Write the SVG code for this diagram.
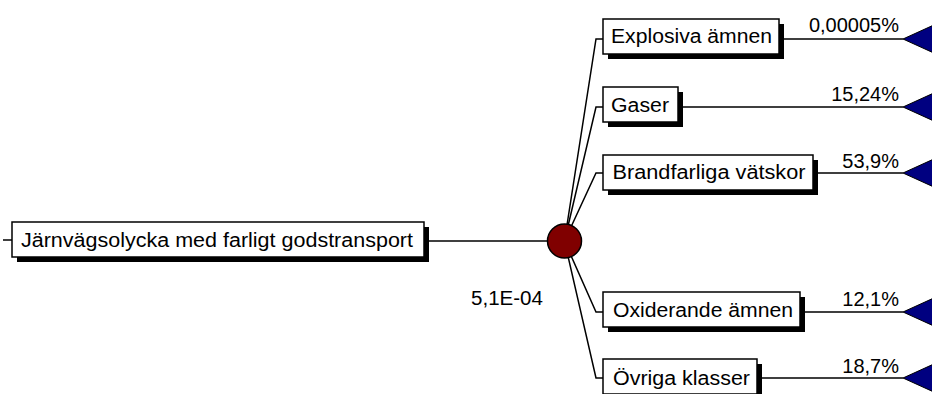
<svg xmlns="http://www.w3.org/2000/svg" width="932" height="394" viewBox="0 0 932 394">
<defs>
<filter id="blur" x="-5%" y="-30%" width="110%" height="160%"><feGaussianBlur stdDeviation="0.6"/></filter>
<style>
.box{fill:#fff;stroke:#000;stroke-width:1.5}
.sh{fill:#000;filter:url(#blur)}
.t{font-family:"Liberation Sans",Arial,sans-serif;font-size:20px;fill:#000}
.p{font-family:"Liberation Sans",Arial,sans-serif;font-size:20px;fill:#000;text-anchor:end}
.ln{stroke:#000;stroke-width:1.5;fill:none}
.tri{fill:#000080;stroke:#000;stroke-width:1}
</style>
</defs>
<rect width="932" height="394" fill="#fff"/>
<g id="connectors">
<path class="ln" d="M3 240H12"/>
<path class="ln" d="M424 241H548"/>
<path class="ln" d="M564.5 241L596 39H603M779 39H903"/>
<path class="ln" d="M564.5 241L596 107H603M678 107H903"/>
<path class="ln" d="M564.5 241L596 173H603M813 173H903"/>
<path class="ln" d="M564.5 241L596 312H603M800 312H903"/>
<path class="ln" d="M564.5 241L596 378H603M757 378H903"/>
</g>
<g id="root">
<rect class="sh" x="17" y="227" width="412" height="35"/>
<rect class="box" x="12" y="222" width="412" height="35"/>
<text class="t" x="21" y="247" textLength="392" lengthAdjust="spacingAndGlyphs">Järnvägsolycka med farligt godstransport</text>
</g>
<g id="chance">
<circle cx="564.5" cy="241" r="17" fill="#800000" stroke="#000" stroke-width="1.5"/>
<text class="t" x="471" y="305" textLength="72" lengthAdjust="spacingAndGlyphs">5,1E-04</text>
</g>
<g id="explosiva">
<rect class="sh" x="608" y="24" width="176" height="35"/>
<rect class="box" x="603" y="19" width="176" height="35"/>
<text class="t" x="611" y="43" textLength="161" lengthAdjust="spacingAndGlyphs">Explosiva ämnen</text>
<text class="p" x="899" y="32">0,00005%</text>
<polygon class="tri" points="903,39 936,24 936,54"/>
</g>
<g id="gaser">
<rect class="sh" x="608" y="92" width="75" height="35"/>
<rect class="box" x="603" y="87" width="75" height="35"/>
<text class="t" x="611" y="111.5" textLength="58" lengthAdjust="spacingAndGlyphs">Gaser</text>
<text class="p" x="899" y="101">15,24%</text>
<polygon class="tri" points="903,107 936,92 936,122"/>
</g>
<g id="brandfarliga">
<rect class="sh" x="608" y="160" width="210" height="35"/>
<rect class="box" x="603" y="155" width="210" height="35"/>
<text class="t" x="612.5" y="179" textLength="193" lengthAdjust="spacingAndGlyphs">Brandfarliga vätskor</text>
<text class="p" x="899" y="168">53,9%</text>
<polygon class="tri" points="903,173 936,158 936,188"/>
</g>
<g id="oxiderande">
<rect class="sh" x="608" y="297" width="197" height="35"/>
<rect class="box" x="603" y="292" width="197" height="35"/>
<text class="t" x="613" y="316.5" textLength="180" lengthAdjust="spacingAndGlyphs">Oxiderande ämnen</text>
<text class="p" x="899" y="306">12,1%</text>
<polygon class="tri" points="903,312 936,297 936,327"/>
</g>
<g id="ovriga">
<rect class="sh" x="608" y="364" width="154" height="35"/>
<rect class="box" x="603" y="359" width="154" height="35"/>
<text class="t" x="613" y="385" textLength="137" lengthAdjust="spacingAndGlyphs">Övriga klasser</text>
<text class="p" x="899" y="373">18,7%</text>
<polygon class="tri" points="903,378 936,363 936,393"/>
</g>
</svg>
